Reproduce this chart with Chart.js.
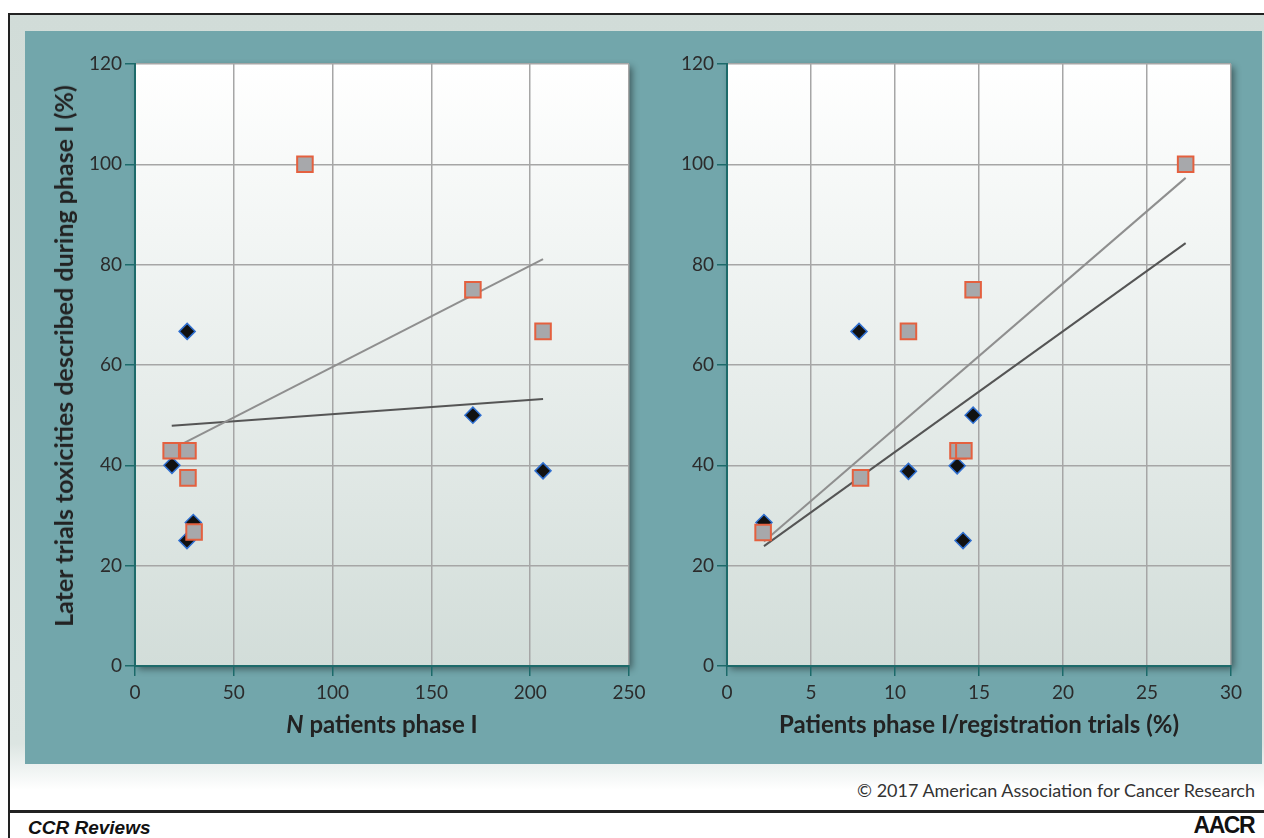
<!DOCTYPE html>
<html lang="en">
<head>
<meta charset="UTF-8">
<title>Later trials toxicities described during phase I</title>
<script src="https://cdn.jsdelivr.net/npm/chart.js"></script>
<style>
  body { margin: 0; width: 1264px; height: 838px; overflow: hidden; background: #fff; font-family: Lato, Arial, sans-serif; position: relative; }
  .vline { position: absolute; left: 8px; top: 13px; width: 2px; height: 825px; background: #222; }
  .hline-top { position: absolute; left: 8px; top: 13px; width: 1256px; height: 2px; background: #222; }
  .hline-bot { position: absolute; left: 8px; top: 810px; width: 1256px; height: 3px; background: #222; }
  .band { position: absolute; left: 10px; top: 15px; width: 1254px; height: 775px;
          background: linear-gradient(to bottom, #d1dcd8 0%, #dce5e2 94%, #ffffff 100%); }
  .panel { position: absolute; left: 25px; top: 31px; width: 1237px; height: 733px; background: #72a6ab; }
  canvas { position: absolute; }
  .ytitle { position: absolute; left: 63px; top: 356px; transform: translate(-50%, -50%) rotate(-90deg);
            white-space: nowrap; font-size: 25px; font-weight: bold; color: #222; }
  .xtitle { position: absolute; top: 723px; transform: translate(-50%, -50%); white-space: nowrap;
            font-size: 24px; font-weight: bold; color: #222; }
  .copy { position: absolute; right: 9px; top: 779px; font-size: 18px; color: #333; }
  .ccr { position: absolute; left: 28px; top: 817px; font-family: "Liberation Sans", Arial, sans-serif;
         font-size: 19px; font-weight: bold; font-style: italic; color: #111; }
  .aacr { position: absolute; right: 10px; top: 812px; font-family: "Liberation Sans", Arial, sans-serif;
          font-size: 23px; font-weight: bold; letter-spacing: -1.5px; color: #111; }
</style>
</head>
<body>
<div class="band"></div>
<div class="panel"></div>
<div class="vline"></div>
<div class="hline-top"></div>
<div class="hline-bot"></div>

<canvas id="leftChart" style="left:25px; top:31px;" width="628" height="680"></canvas>
<canvas id="rightChart" style="left:640px; top:31px;" width="615" height="680"></canvas>

<div class="ytitle">Later trials toxicities described during phase I (%)</div>
<div class="xtitle" style="left:382px;"><i>N</i> patients phase I</div>
<div class="xtitle" style="left:979px;">Patients phase I/registration trials (%)</div>
<div class="copy">© 2017 American Association for Cancer Research</div>
<div class="ccr">CCR Reviews</div>
<div class="aacr">AACR</div>

<script>
// left panel: N patients phase I
const leftSquareX = [86, 171, 206.5, 18.3, 26.8, 26.8, 29.9];
const leftSquareY = [100, 75, 66.7, 42.9, 42.9, 37.5, 26.7];
const leftDiamondX = [26.4, 18.7, 29.5, 26.3, 171, 206.5];
const leftDiamondY = [66.7, 40, 28.6, 25, 50, 38.9];
const leftLightLineX = [18.5, 206.5];
const leftLightLineY = [43.2, 81.1];
const leftDarkLineX = [18.6, 206.5];
const leftDarkLineY = [47.9, 53.2];

// right panel: patients phase I / registration trials (%)
const rightSquareX = [27.3, 14.65, 10.8, 13.75, 14.1, 7.95, 2.15];
const rightSquareY = [100, 75, 66.7, 42.9, 42.9, 37.5, 26.6];
const rightDiamondX = [7.86, 14.65, 10.8, 13.7, 14.05, 2.2];
const rightDiamondY = [66.7, 50, 38.8, 39.9, 25, 28.6];
const rightLightLineX = [2.2, 27.3];
const rightLightLineY = [24.8, 97.3];
const rightDarkLineX = [2.2, 27.3];
const rightDarkLineY = [23.9, 84.3];

const yMax = 120, yStep = 20;

Chart.defaults.font.family = 'Lato, Arial, sans-serif';
Chart.defaults.color = '#2b2b2b';

function pts(xs, ys) { return xs.map((x, i) => ({ x: x, y: ys[i] })); }

const plotBg = {
  id: 'plotBg',
  beforeDraw(chart) {
    const { ctx, chartArea: a } = chart;
    ctx.save();
    const g = ctx.createLinearGradient(0, a.top, 0, a.bottom);
    g.addColorStop(0, '#ffffff');
    g.addColorStop(1, '#d2ddd9');
    ctx.shadowColor = 'rgba(0,0,0,0.45)';
    ctx.shadowBlur = 7;
    ctx.shadowOffsetX = 3;
    ctx.shadowOffsetY = 3;
    ctx.fillStyle = g;
    ctx.fillRect(a.left, a.top, a.right - a.left, a.bottom - a.top);
    ctx.restore();
  }
};

function makeChart(id, sqX, sqY, diX, diY, lx, ly, dx, dy, xMax, xStep, yAxisWidth) {
  return new Chart(document.getElementById(id), {
    type: 'scatter',
    data: {
      datasets: [
        { data: pts(sqX, sqY), order: 1, pointStyle: 'rect', pointRadius: 11,
          backgroundColor: '#a7a8ab', borderColor: '#e4603f', borderWidth: 2 },
        { data: pts(diX, diY), order: 2, pointStyle: 'rectRot', pointRadius: 8,
          backgroundColor: '#111111', borderColor: '#2f6fd0', borderWidth: 1.5 },
        { data: pts(lx, ly), order: 3, showLine: true, pointRadius: 0,
          borderColor: '#8f8f8f', borderWidth: 2 },
        { data: pts(dx, dy), order: 4, showLine: true, pointRadius: 0,
          borderColor: '#555555', borderWidth: 2 }
      ]
    },
    options: {
      responsive: false,
      animation: false,
      events: [],
      layout: { padding: { top: 33, right: 24, bottom: 0, left: 0 } },
      plugins: { legend: { display: false }, tooltip: { enabled: false } },
      scales: {
        x: {
          type: 'linear', min: 0, max: xMax,
          afterFit(s) { s.height = 45; },
          ticks: { stepSize: xStep, padding: 5, font: { size: 19 }, color: '#2b2b2b' },
          grid: { color: '#a6a6a6', lineWidth: 1.5, tickColor: '#1d6a6a', tickLength: 10 },
          border: { color: '#1d6a6a', width: 2 }
        },
        y: {
          type: 'linear', min: 0, max: yMax,
          afterFit(s) { s.width = yAxisWidth; },
          ticks: { stepSize: yStep, padding: 3, font: { size: 19 }, color: '#2b2b2b' },
          grid: { color: '#a6a6a6', lineWidth: 1.5, tickColor: '#1d6a6a', tickLength: 10 },
          border: { color: '#1d6a6a', width: 2 }
        }
      }
    },
    plugins: [plotBg]
  });
}

makeChart('leftChart', leftSquareX, leftSquareY, leftDiamondX, leftDiamondY,
  leftLightLineX, leftLightLineY, leftDarkLineX, leftDarkLineY, 250, 50, 110);
makeChart('rightChart', rightSquareX, rightSquareY, rightDiamondX, rightDiamondY,
  rightLightLineX, rightLightLineY, rightDarkLineX, rightDarkLineY, 30, 5, 87);
</script>
</body>
</html>
